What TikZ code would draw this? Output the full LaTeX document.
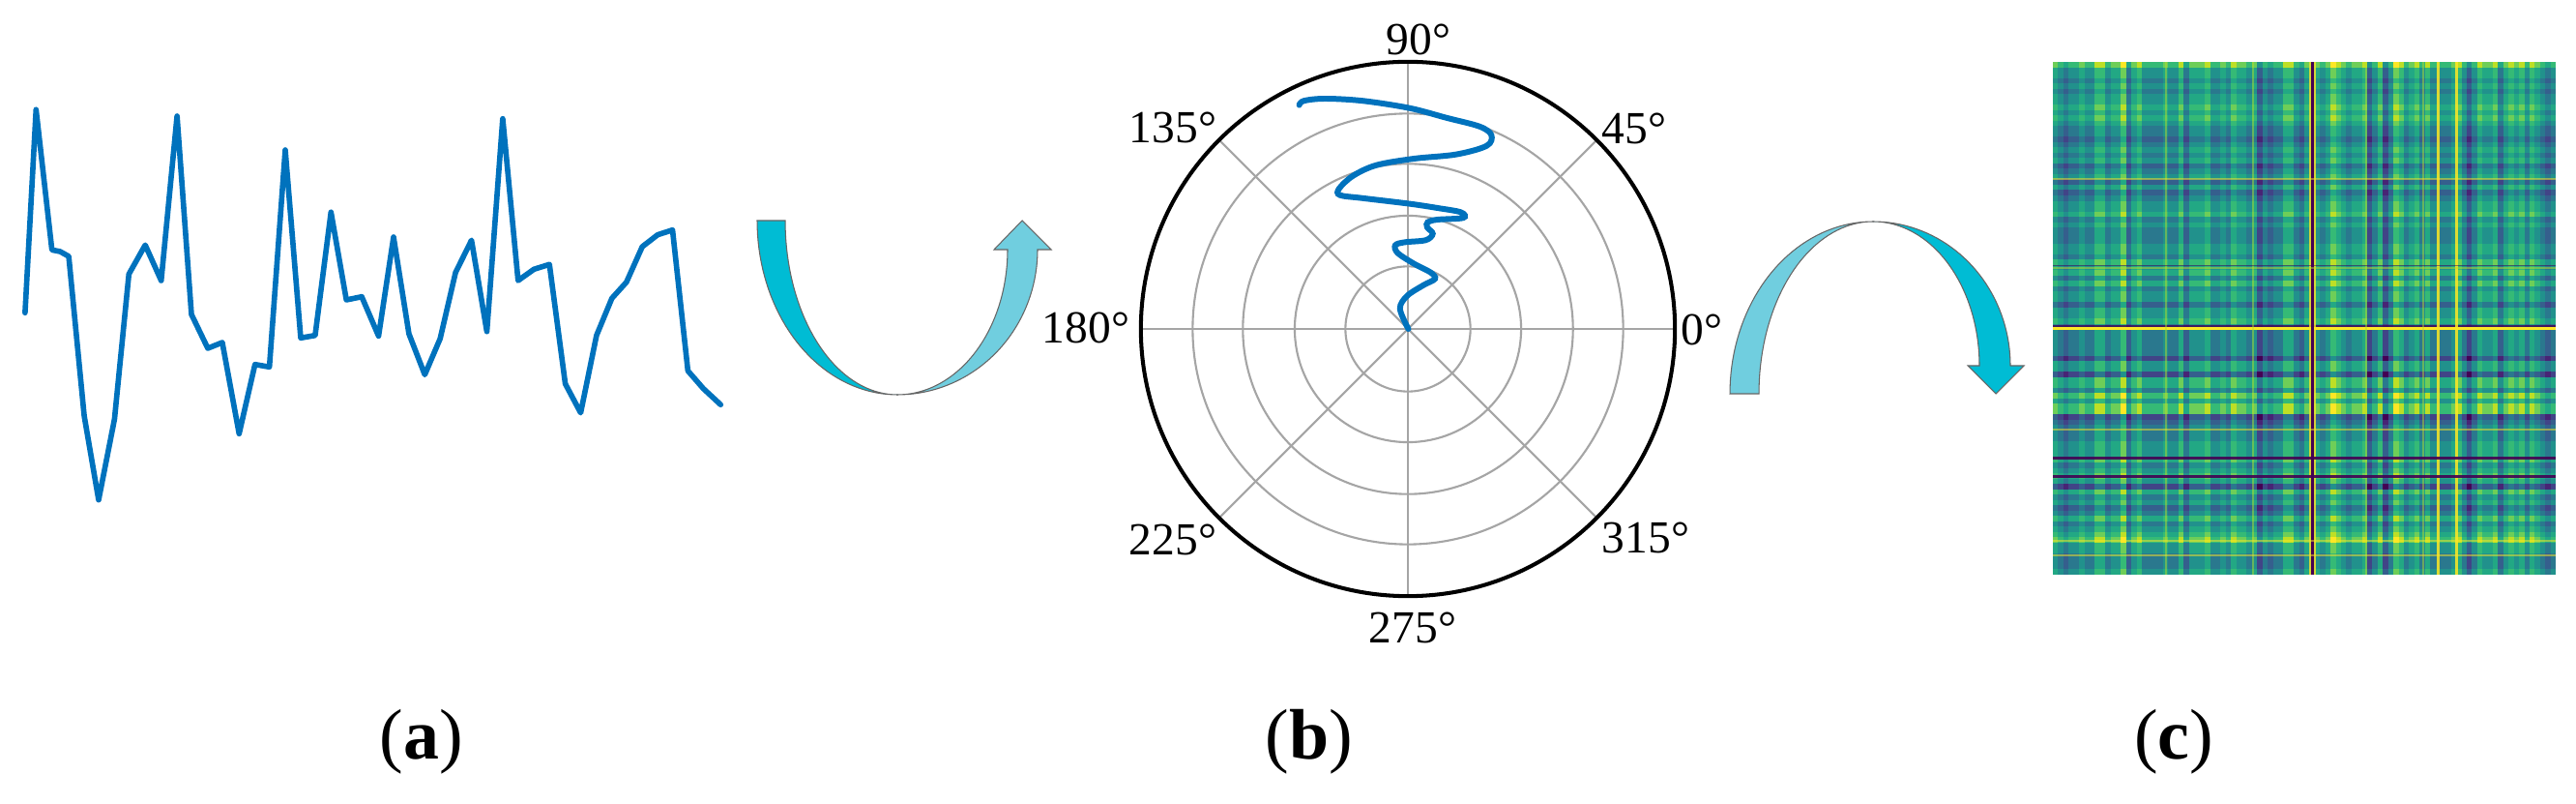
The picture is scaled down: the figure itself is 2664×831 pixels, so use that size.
\documentclass[tikz,border=0pt]{standalone}
\usepackage{fontspec}
\setmainfont{Liberation Serif}
\definecolor{seriesblue}{RGB}{0,114,189}
\definecolor{arrowdark}{RGB}{0,188,212}
\definecolor{arrowlight}{RGB}{112,206,223}
\definecolor{gridgray}{RGB}{165,165,165}
\definecolor{vpurple}{RGB}{68,1,84}
\definecolor{vyellow}{RGB}{253,231,37}
\definecolor{vygreen}{RGB}{189,223,38}
% viridis steps for the heat map
\definecolor{hv0}{RGB}{68,1,84}
\definecolor{hv1}{RGB}{72,36,117}
\definecolor{hv2}{RGB}{65,68,135}
\definecolor{hv3}{RGB}{53,95,141}
\definecolor{hv4}{RGB}{42,120,142}
\definecolor{hv5}{RGB}{33,145,140}
\definecolor{hv6}{RGB}{34,168,132}
\definecolor{hv7}{RGB}{53,186,118}
\definecolor{hv8}{RGB}{110,206,88}
\definecolor{hv9}{RGB}{189,223,38}
\definecolor{hv10}{RGB}{253,231,37}
\newcommand\pickval[1]{%
 \ifdim#1pt<0.03pt \def\vv{0}\else
 \ifdim#1pt<0.12pt \def\vv{1}\else
 \ifdim#1pt<0.40pt \def\vv{2}\else
 \ifdim#1pt<0.73pt \def\vv{3}\else
 \ifdim#1pt<0.94pt \def\vv{4}\else
 \def\vv{5}\fi\fi\fi\fi\fi}
\tikzset{
  seriesline/.style={draw=seriesblue, line width=1.6pt, line join=round, line cap=round},
  polarcurve/.style={draw=seriesblue, line width=1.7pt, line cap=round},
  gridline/.style={draw=gridgray, line width=0.6pt},
  rimline/.style={draw=black, line width=1.15pt},
  banddark/.style={fill=arrowdark, draw=gray!80!black, line width=0.3pt},
  bandlight/.style={fill=arrowlight, draw=gray!80!black, line width=0.3pt},
  anglelabel/.style={font=\fontsize{13.5}{15}\selectfont, inner sep=0pt},
  sublabel/.style={font=\fontsize{21}{24}\selectfont, inner sep=0pt}
}
\begin{document}
\begin{tikzpicture}[x=0.01cm, y=-0.01cm]
\fill[white] (0,0) rectangle (2664,831);
\path[use as bounding box] (0,0) rectangle (2664,831);

% ---------- (a) time series ----------
\draw[seriesline] plot coordinates {
(25.9,323.3) (37.3,113.3) (53.7,258.3) (62.2,260) (71.1,265) (87.1,430)
(102,516.7) (118.4,433.3) (133.3,283.3) (150.2,253.3) (166.7,290) (183.1,120)
(198,325) (214.9,360) (229.9,354) (247.3,448.3) (263.7,376.7) (278.6,379.3)
(295,155) (311,349.3) (325.9,346.7) (342.3,219.3) (358.2,310) (374.1,306.7)
(391.5,347.3) (407,245) (422.9,345) (439.3,387.3) (455.2,350) (471.1,281.7)
(487.6,248.3) (503.5,342.7) (519.9,122.7) (535.8,290) (552.2,278.3) (568.2,273.3)
(584.6,396.7) (600.5,426.7) (616.9,346.7) (632.8,308.3) (647.8,291.7) (664.2,255)
(680.1,242.7) (695.5,237.7) (711.4,383.3) (727.4,401.7) (745.3,418.3)};

% ---------- arrow 1 ----------
\filldraw[banddark] plot[domain=180:90, samples=40] ({928+145*cos(\x)},{228+180*sin(\x)})
  -- plot[domain=90:180, samples=40] ({928+116*cos(\x)},{228+180*sin(\x)}) -- cycle;
\filldraw[bandlight] plot[domain=90:0, samples=40] ({928+145*cos(\x)},{258+150*sin(\x)})
  -- (1087,258) -- (1057,228) -- (1028,258) -- (1042,258)
  -- plot[domain=0:90, samples=40] ({928+114*cos(\x)},{258+150*sin(\x)}) -- cycle;

% ---------- (b) polar plot ----------
\coordinate (pc) at (1456,340);
\foreach \r in {0.646,1.17,1.706,2.225}
  \draw[gridline] (pc) circle[radius=\r cm];
\foreach \a in {0,45,...,315}
  \draw[gridline] (pc) -- ({1456+276*cos(\a)},{340-276*sin(\a)});
\draw[rimline] (pc) circle[radius=2.76cm];
\draw[polarcurve] plot[smooth, tension=0.55] coordinates {
(1456.5,340) (1447.8,319.1) (1455.1,305.9) (1472.0,294.8) (1484.1,288.1) (1479.3,281.5)
(1462.3,272.6) (1445.4,261.5) (1442.9,253.5) (1452.6,250.4) (1474.5,248.2) (1481.7,241.6)
(1475.9,234.9) (1476.5,229.6) (1486.6,227.0) (1513.2,225.2) (1510.8,219.4) (1486.6,215.0)
(1457.5,210.6) (1409.0,204.8) (1385.7,201.7) (1384.8,195.0) (1399.3,181.7) (1423.5,170.7)
(1462.3,164.0) (1506.0,159.6) (1537.5,150.7) (1542.3,139.6) (1530.2,130.8) (1496.3,121.9)
(1457.5,111.7) (1409.0,104.2) (1370.2,102.0) (1348.4,104.2) (1343.6,108.6)};
\node[anglelabel] (l90) at (1467,41) {90°};
\node[anglelabel] (l45) at (1690,133) {45°};
\node[anglelabel] (l135) at (1213,132) {135°};
\node[anglelabel] (l180) at (1123,339) {180°};
\node[anglelabel] (l0) at (1760,341) {0°};
\node[anglelabel] (l225) at (1213,558) {225°};
\node[anglelabel] (l315) at (1702,556) {315°};
\node[anglelabel] (l275) at (1461,649) {275°};

% ---------- arrow 2 ----------
\filldraw[bandlight] plot[domain=180:270, samples=40] ({1937+148*cos(\x)},{407+178*sin(\x)})
  -- plot[domain=270:180, samples=40] ({1937+118*cos(\x)},{407+178*sin(\x)}) -- cycle;
\filldraw[banddark] plot[domain=270:360, samples=40] ({1937+142*cos(\x)},{378+149*sin(\x)})
  -- (2093,378) -- (2064,407) -- (2035,378) -- (2047,378)
  -- plot[domain=360:270, samples=40] ({1937+110*cos(\x)},{378+149*sin(\x)}) -- cycle;

% ---------- (c) heat map ----------
\pgfmathsetseed{11}
\foreach \i in {0,...,95} {
  \pgfmathsetmacro\rr{rnd}\pickval{\rr}
  \expandafter\xdef\csname hc\i\endcsname{\vv}
  \pgfmathsetmacro\rr{rnd}\pickval{\rr}
  \expandafter\xdef\csname hr\i\endcsname{\vv}
}
\begin{scope}
\clip (2123,64) rectangle (2643,594);
\foreach \i in {0,...,95} {
  \foreach \j in {0,...,95} {
    \edef\k{\the\numexpr\csname hc\j\endcsname+\csname hr\i\endcsname\relax}
    \fill[hv\k] ({2123+5.417*\j},{64+5.521*\i}) rectangle ++(5.6,5.7);
  }
}
% distinct lines
\fill[vyellow] (2123,338) rectangle (2643,341.5);
\fill[vpurple, fill opacity=0.8] (2123,336.5) rectangle (2643,338);
\fill[vyellow, fill opacity=0.8] (2388,64) rectangle (2389.5,594);
\fill[vyellow, fill opacity=0.8] (2393,64) rectangle (2394.5,594);
\fill[vpurple] (2389.5,64) rectangle (2393,594);
\fill[vyellow, fill opacity=0.85] (2519.5,64) rectangle (2522.5,594);
\fill[vyellow, fill opacity=0.85] (2538.5,64) rectangle (2541.5,594);
\foreach \xx in {2239,2329,2446,2505}
  \fill[vygreen, fill opacity=0.45] (\xx,64) rectangle (\xx+2,594);
\fill[vpurple, fill opacity=0.9] (2123,472.5) rectangle (2643,475);
\fill[vpurple, fill opacity=0.9] (2123,491.5) rectangle (2643,494);
\foreach \yy in {184,443,558,573}
  \fill[vyellow, fill opacity=0.5] (2123,\yy) rectangle (2643,\yy+2);
\fill[vpurple, fill opacity=0.5] (2123,274) rectangle (2643,275.5);
\fill[vygreen, fill opacity=0.5] (2123,276) rectangle (2643,278);
\end{scope}

% ---------- sub-labels ----------
\node[sublabel] (la) at (436,767) {(\textbf{a})};
\node[sublabel] (lb) at (1354,767) {(\textbf{b})};
\node[sublabel] (lc) at (2248,767) {(\textbf{c})};
\end{tikzpicture}
\end{document}
